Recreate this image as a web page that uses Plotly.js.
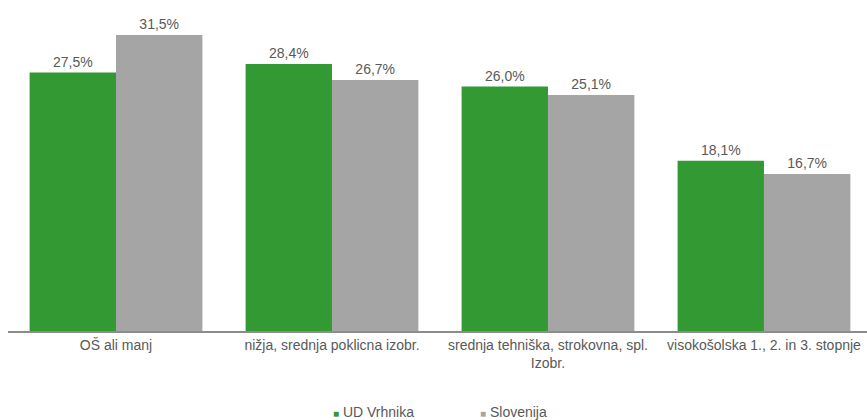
<!DOCTYPE html>
<html>
<head>
<meta charset="utf-8">
<script src="https://cdn.plot.ly/plotly-3.0.1.min.js"></script>
<style>html,body{margin:0;padding:0;background:#fff;}#chart{width:867px;height:420px;}</style>
</head>
<body>
<div id="chart"></div>
<script>
const categories = ["OŠ ali manj", "nižja, srednja poklicna izobr.", "srednja tehniška, strokovna, spl.<br>Izobr.", "visokošolska 1., 2. in 3. stopnje"];
const seriesNames = ["UD Vrhnika", "Slovenija"];
const udVrhnika = [27.5, 28.4, 26.0, 18.1];
const slovenija = [31.5, 26.7, 25.1, 16.7];
const colors = ["#339933", "#a5a5a5"];

const textColor = "#595959";
const font = {family: "Liberation Sans, Arial, sans-serif", size: 14, color: textColor};

function barTrace(name, values, color) {
  return {
    type: "bar",
    name: name,
    x: categories,
    y: values,
    marker: {color: color},
    texttemplate: "%{y:.1f}%",
    textposition: "outside",
    textfont: font,
    cliponaxis: false,
    hoverinfo: "skip"
  };
}

const data = [
  barTrace(seriesNames[0], udVrhnika, colors[0]),
  barTrace(seriesNames[1], slovenija, colors[1])
];

const legendY = -0.246;
const layout = {
  width: 867,
  height: 420,
  margin: {l: 8, r: 0, t: 2, b: 89},
  paper_bgcolor: "#ffffff",
  plot_bgcolor: "#ffffff",
  separators: ", ",
  font: font,
  barmode: "group",
  bargap: 0.2,
  bargroupgap: 0,
  showlegend: false,
  xaxis: {
    type: "category",
    range: [-0.5, 3.477],
    showline: true,
    linecolor: "#8c8c8c",
    linewidth: 2,
    ticks: "",
    tickfont: font,
    showgrid: false,
    zeroline: false,
    fixedrange: true
  },
  yaxis: {
    range: [0, 35],
    visible: false,
    showgrid: false,
    zeroline: false,
    fixedrange: true
  },
  annotations: [
    {xref: "paper", yref: "paper", x: (331 - 8) / 859, y: legendY, xanchor: "left", yanchor: "middle", showarrow: false,
     text: "<span style='color:" + colors[0] + ";font-size:10px'>■</span> " + seriesNames[0], font: font},
    {xref: "paper", yref: "paper", x: (478 - 8) / 859, y: legendY, xanchor: "left", yanchor: "middle", showarrow: false,
     text: "<span style='color:" + colors[1] + ";font-size:10px'>■</span> " + seriesNames[1], font: font}
  ]
};

Plotly.newPlot("chart", data, layout, {displayModeBar: false, staticPlot: true});
</script>
</body>
</html>
